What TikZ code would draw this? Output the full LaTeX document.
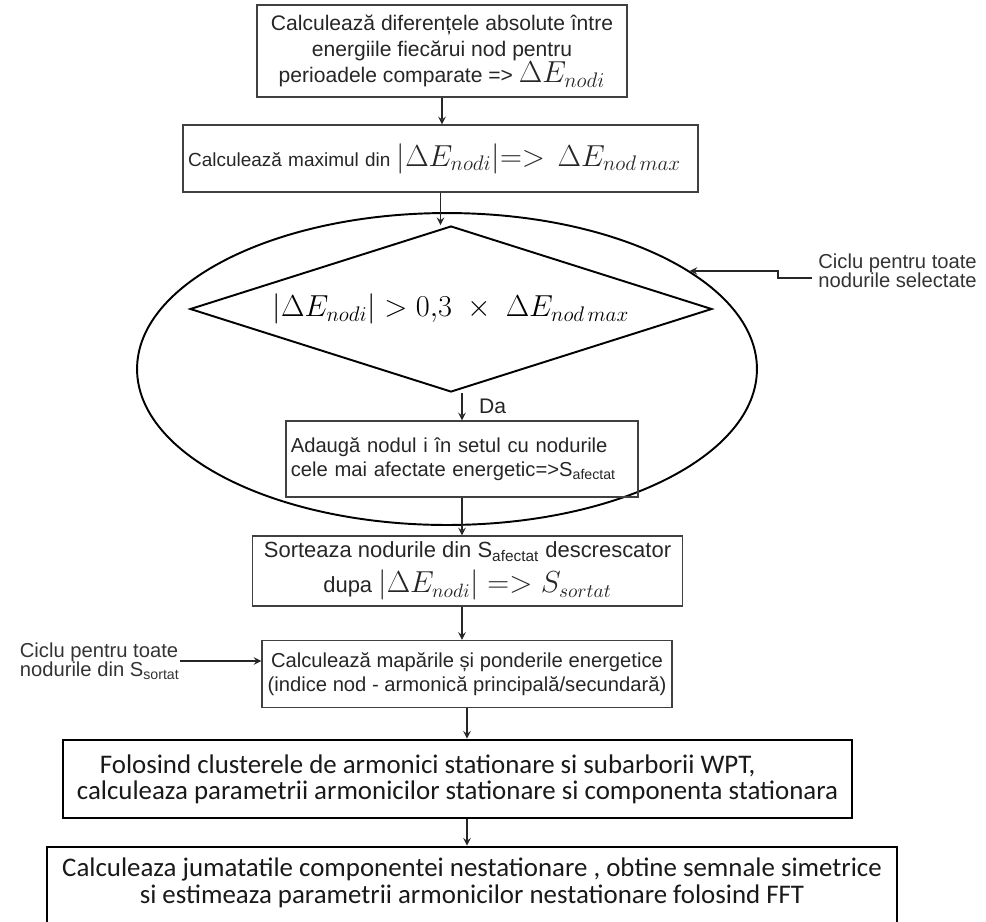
\documentclass[tikz,border=0pt]{standalone}
\usepackage[no-math]{fontspec}
\setmainfont{Liberation Sans}
\newfontfamily\calibri{Carlito}
\usepackage{amsmath}
\usetikzlibrary{shapes,arrows,positioning,calc}

\newcommand{\bigmath}[1]{{\fontsize{17}{17}\selectfont$#1$}}

\begin{document}
\begin{tikzpicture}[
    x=0.02cm, y=-0.02cm,
    stepbox/.style={rectangle, draw=black!75, line width=0.8pt, align=center, inner sep=2pt, text=black!85, font=\fontsize{12}{15}\selectfont},
    widebox/.style={rectangle, draw=black, line width=1.6pt, inner sep=0pt, inner xsep=0.2cm, text=black!90},
    test/.style={diamond, draw=black, line width=1.1pt, aspect=3.1, inner sep=1pt},
    loopline/.style={ellipse, draw=black, line width=1.1pt},
    note/.style={align=left, inner sep=0pt, text=black!80, font=\fontsize{11.5}{11}\selectfont},
    arrow/.style={->, >=stealth, line width=0.9pt, black!85}
]
\useasboundingbox (0,0) rectangle (986,921);
\clip (0,0) rectangle (986,921);

% First steps: differences and maximum
\node[stepbox, minimum width=7.4cm, minimum height=1.84cm] (absdiff) at (442,51) {
    Calculează diferențele absolute între\\
    energiile fiecărui nod pentru\\
    perioadele comparate => \bigmath{\Delta E_{nodi}}
};
\node[stepbox, minimum width=10.3cm, minimum height=1.34cm, text width=10.1cm, align=left, font=\fontsize{10.8}{14}\selectfont] (maxdiff) at (440.5,158.5) {
    \mbox{Calculează maximul din {\fontsize{18.5}{18}\selectfont$|\Delta E_{nodi}|{=}{>}\ \ \Delta E_{nod\,max}$}}
};

% Loop over the selected nodes
\node[loopline, minimum width=12.4cm, minimum height=6.24cm] (loop) at (447,369) {};
\node[test, minimum width=10.44cm, minimum height=3.32cm] (cond) at (451,309) {
    \bigmath{|\Delta E_{nodi}| > 0{,}3\ \times\ \Delta E_{nod\,max}}
};
\node[stepbox, minimum width=7.04cm, minimum height=1.52cm, text width=6.85cm, align=left, font=\fontsize{11.5}{13.5}\selectfont] (adding) at (462,459) {
    Adaugă nodul i în setul cu nodurile\\
    cele mai afectate energetic=>S\textsubscript{afectat}
};
\node[note, anchor=west] (loopnote) at (818,271) {Ciclu pentru toate\\nodurile selectate};

% Sorting and mapping
\node[stepbox, minimum width=8.6cm, minimum height=1.4cm, font=\fontsize{12.5}{20}\selectfont] (sorting) at (467.5,571) {
    Sorteaza nodurile din S\textsubscript{afectat} descrescator\\
    dupa {\fontsize{16}{16}\selectfont$|\Delta E_{nodi}| => S_{sortat}$}
};
\node[stepbox, minimum width=8.2cm, minimum height=1.34cm, font=\fontsize{11.5}{14}\selectfont] (mapping) at (467,674) {
    Calculează mapările și ponderile energetice\\
    (indice nod - armonică principală/secundară)
};
\node[note, anchor=east] (sortnote) at (180,661) {Ciclu pentru toate\\nodurile din S\textsubscript{sortat}};

% Stationary and non-stationary components
\node[widebox, minimum width=15.78cm, minimum height=1.56cm, align=left, font=\calibri\fontsize{15.3}{15}\selectfont] (stationary) at (457.5,779) {
    \hspace*{0.46cm}Folosind clusterele de armonici stationare si subarborii WPT,\\
    calculeaza parametrii armonicilor stationare si componenta stationara
};
\node[widebox, minimum width=17cm, minimum height=1.6cm, align=center, font=\calibri\fontsize{15.3}{15}\selectfont] (nonstat) at (472,887) {
    Calculeaza jumatatile componentei nestationare , obtine semnale simetrice\\
    si estimeaza parametrii armonicilor nestationare folosind FFT\rule[-0.25cm]{0pt}{0pt}
};

% Arrows
\draw[arrow] (absdiff.south) -- (absdiff.south |- maxdiff.north);
\draw[arrow] (maxdiff.south) -- (maxdiff.south |- cond.north);
\draw[arrow] (adding.north |- cond.south) -- node[right=6pt, font=\fontsize{12}{12}\selectfont, text=black!85] {Da} (adding.north);
\draw[arrow] (adding.south) -- (adding.south |- sorting.north);
\draw[arrow] (adding.south |- sorting.south) -- (adding.south |- mapping.north);
\draw[arrow] (mapping.south) -- (mapping.south |- stationary.north);
\draw[arrow] (mapping.south |- stationary.south) -- (mapping.south |- nonstat.north);
\draw[arrow] ($(loopnote.west)+(-6,7)$) -- ++(-34,0) |- (loop.22);
\draw[arrow] (sortnote.east) -- (sortnote.east -| mapping.west);

\end{tikzpicture}
\end{document}
